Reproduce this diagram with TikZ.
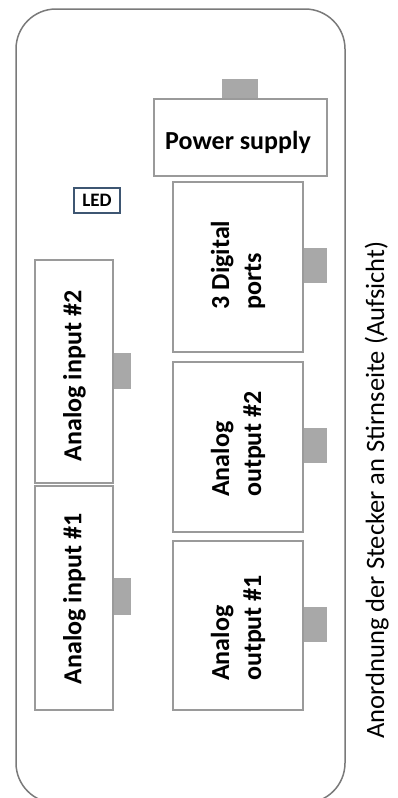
\documentclass[tikz,border=0pt]{standalone}
\usepackage{fontspec}
\setmainfont{Carlito}
\begin{document}
\begin{tikzpicture}[x=1pt,y=-1pt,
  box/.style={draw=boxgray, line width=2pt, fill=white, inner sep=0pt},
  tab/.style={fill=tabgray, draw=none, inner sep=0pt},
  lbl/.style={font=\fontsize{26}{32}\selectfont\bfseries, inner sep=0pt, align=left},
  rlbl/.style={lbl, rotate=90},
]
\definecolor{boxgray}{HTML}{9A9A9A}
\definecolor{tabgray}{HTML}{A8A8A8}
\definecolor{outgray}{HTML}{7A7A7A}
\definecolor{ledblue}{HTML}{3E5672}
\useasboundingbox (0,0) rectangle (398,798);
\begin{scope}
\clip (0,0) rectangle (398,798);
\draw[outgray, line width=1.5pt, rounded corners=40pt] (16,9) rectangle (345,803);
\end{scope}
% tabs
\node[tab, minimum width=36pt, minimum height=20pt] (powtab) at (240,89) {};
\node[tab, minimum width=25pt, minimum height=35pt, anchor=west] (digtab) at (302,265.5) {};
\node[tab, minimum width=25pt, minimum height=35pt, anchor=west] (o2tab) at (302,445.5) {};
\node[tab, minimum width=25pt, minimum height=35pt, anchor=west] (o1tab) at (302,624.5) {};
\node[tab, minimum width=19pt, minimum height=36pt, anchor=west] (i2tab) at (112,371) {};
\node[tab, minimum width=19pt, minimum height=37pt, anchor=west] (i1tab) at (112,596.5) {};
% boxes
\node[box, minimum width=173pt, minimum height=77pt] (pow) at (240.5,137.5) {};
\node[box, minimum width=130pt, minimum height=170pt] (dig) at (238,267) {};
\node[box, minimum width=130pt, minimum height=170pt] (out2) at (238,447) {};
\node[box, minimum width=130pt, minimum height=169pt] (out1) at (238,625.5) {};
\node[box, minimum width=78pt, minimum height=223pt] (in2) at (74,371.5) {};
\node[box, minimum width=78pt, minimum height=224pt] (in1) at (74,598) {};
\node[draw=ledblue, line width=1.6pt, minimum width=46pt, minimum height=25pt, inner sep=0pt,
  font=\fontsize{19}{22}\selectfont\bfseries] (led) at (97,200.5) {LED};
% labels
\node[lbl] (powl) at (238,142) {Power supply};
\node[rlbl] (digl) at (238,265) {3 Digital\\ports};
\node[rlbl] (out2l) at (238,444) {Analog\\output \#2};
\node[rlbl] (out1l) at (238,628) {Analog\\output \#1};
\node[rlbl] (in2l) at (74.5,376) {Analog input \#2};
\node[rlbl] (in1l) at (74.5,599) {Analog input \#1};
\node[rotate=90, anchor=base, inner sep=0pt, font=\fontsize{26.5}{30}\selectfont] (side) at (384,490)
  {Anordnung der Stecker an Stirnseite (Aufsicht)};
\end{tikzpicture}
\end{document}
